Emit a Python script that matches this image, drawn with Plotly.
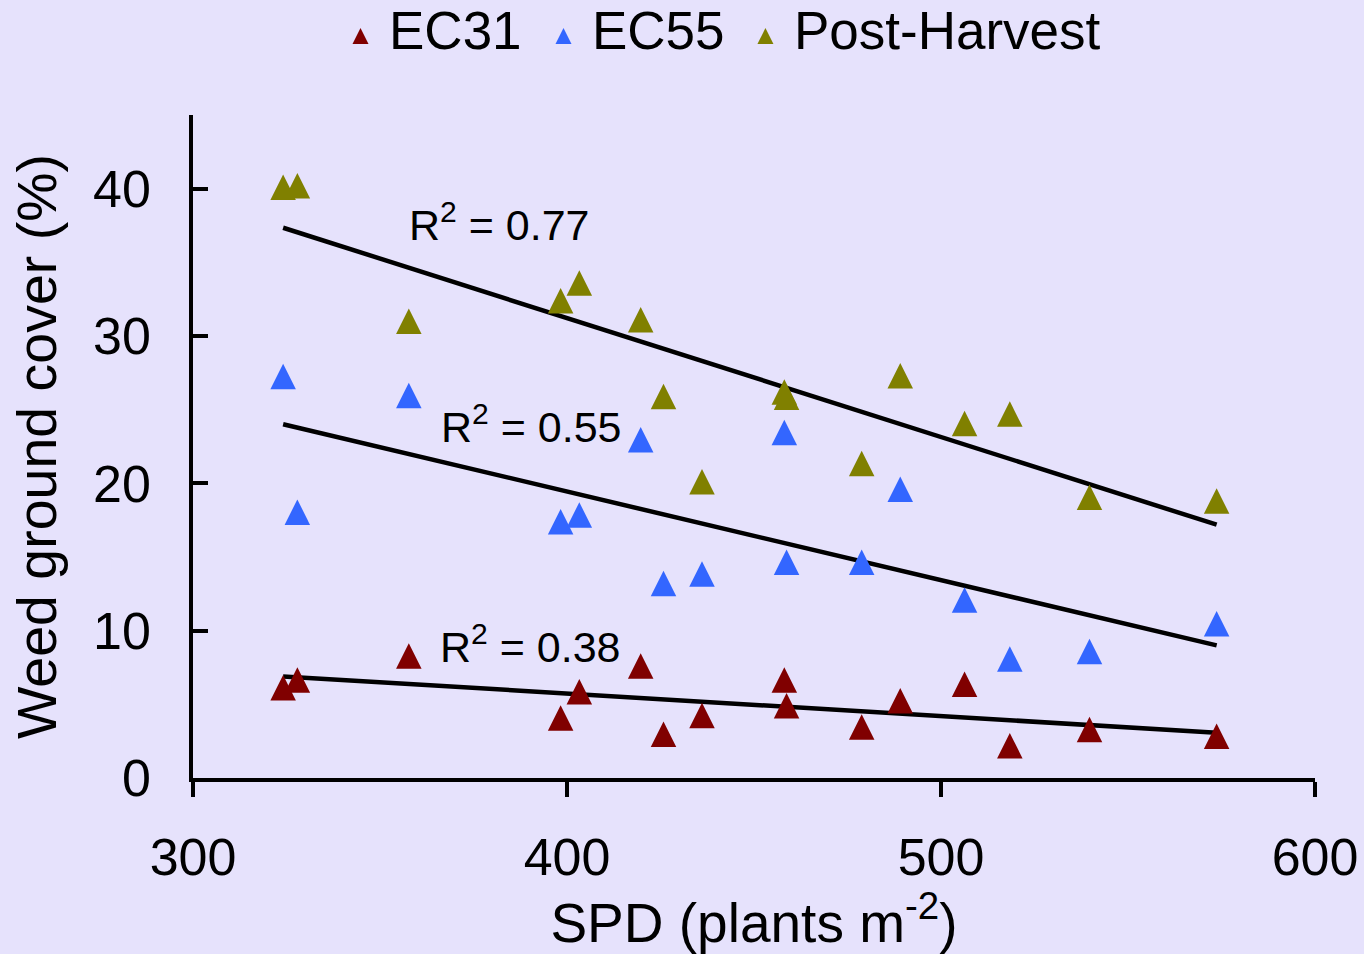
import numpy as np
import plotly.graph_objects as go

# SPD (plants m-2) for each plot, shared by all three sampling times
spd = [324.1, 327.9, 357.7, 398.3, 403.3, 419.7, 425.8, 436.1,
       458.1, 458.7, 478.8, 489.1, 506.3, 518.4, 539.7, 573.7]

# Weed ground cover (%)
ec31 = [6.12, 6.66, 8.28, 4.08, 5.85, 7.6, 2.97, 4.25,
        6.66, 4.9, 3.47, 5.24, 6.37, 2.19, 3.3, 2.83]
ec55 = [27.25, 18.04, 25.97, 17.4, 17.85, 22.95, 13.2, 13.84,
        23.45, 14.65, 14.65, 19.6, 12.08, 8.08, 8.59, 10.47]
post_harvest = [40.1, 40.2, 31.0, 32.4, 33.6, 31.1, 25.9, 20.1,
                26.2, 25.85, 21.35, 27.3, 24.06, 24.7, 19.05, 18.8]

series_names = ["EC31", "EC55", "Post-Harvest"]
series_values = [ec31, ec55, post_harvest]
series_colors = ["#800000", "#3366FF", "#808000"]
r2_labels = ["0.38", "0.55", "0.77"]
r2_pos = [(365.4, 9.1), (365.8, 24.06), (357.2, 37.74)]

x_ticks = [300, 400, 500, 600]
y_ticks = [0, 10, 20, 30, 40]

FONT = "Liberation Sans, Arial, sans-serif"
BG = "#E6E2FC"
MS = 25.5
legend_ids = ["legend", "legend2", "legend3"]
legend_x = [0.1239, 0.3048, 0.4848]

fig = go.Figure()

# trend lines (least squares fit of each series)
xs = np.array(spd)
for vals in series_values:
    k, b = np.polyfit(xs, np.array(vals), 1)
    xl = np.array([xs.min(), xs.max()])
    fig.add_trace(go.Scatter(x=xl, y=k * xl + b, mode="lines",
                             line=dict(color="black", width=4.5),
                             showlegend=False, hoverinfo="skip"))

for name, vals, col, lid in zip(series_names, series_values, series_colors, legend_ids):
    fig.add_trace(go.Scatter(
        x=spd, y=vals, mode="markers", name=name, showlegend=False,
        marker=dict(symbol="arrow-down", angle=180, standoff=MS / 2,
                    size=MS, color=col, line=dict(width=0))))
    # legend entry
    fig.add_trace(go.Scatter(
        x=[None], y=[None], mode="markers", name=name, legend=lid,
        marker=dict(symbol="arrow-up", size=16, color=col, line=dict(width=0))))

for lab, (ax, ay) in zip(r2_labels, r2_pos):
    fig.add_annotation(x=ax, y=ay, xref="x", yref="y",
                       text="R<sup>2</sup> = " + lab, showarrow=False,
                       xanchor="left", yanchor="middle",
                       font=dict(family=FONT, size=43, color="black"))

legend_common = dict(orientation="h", xanchor="left", y=1.131, yanchor="middle",
                     font=dict(family=FONT, size=53), bgcolor="rgba(0,0,0,0)",
                     itemwidth=47)

fig.update_layout(
    width=1364, height=954,
    paper_bgcolor=BG, plot_bgcolor=BG,
    margin=dict(l=193, r=49, t=115, b=176, autoexpand=False),
    font=dict(family=FONT, color="black"),
    showlegend=True,
    legend=dict(x=legend_x[0], **legend_common),
    legend2=dict(x=legend_x[1], **legend_common),
    legend3=dict(x=legend_x[2], **legend_common),
    xaxis=dict(range=[300, 600], tickvals=x_ticks, showgrid=False,
               zeroline=False, showline=True, linecolor="black", linewidth=3.5,
               ticks="outside", ticklen=15, tickwidth=3.5, tickcolor="black",
               tickfont=dict(family=FONT, size=52), ticklabelstandoff=16,
               automargin=False,
               title=dict(text="SPD (plants m<sup>-2</sup>)",
                          font=dict(family=FONT, size=55), standoff=10)),
    yaxis=dict(range=[0, 45], tickvals=y_ticks, showgrid=False,
               zeroline=False, showline=True, linecolor="black", linewidth=3.5,
               ticks="inside", ticklen=15, tickwidth=3.5, tickcolor="black",
               tickfont=dict(family=FONT, size=52), ticklabelstandoff=28,
               automargin=False,
               title=dict(text="Weed ground cover (%)",
                          font=dict(family=FONT, size=55.5), standoff=20)),
)

fig.write_html("out.html", config={"displayModeBar": False},
               post_script="document.body.style.margin='0';"
                           "document.body.style.overflow='hidden';")
